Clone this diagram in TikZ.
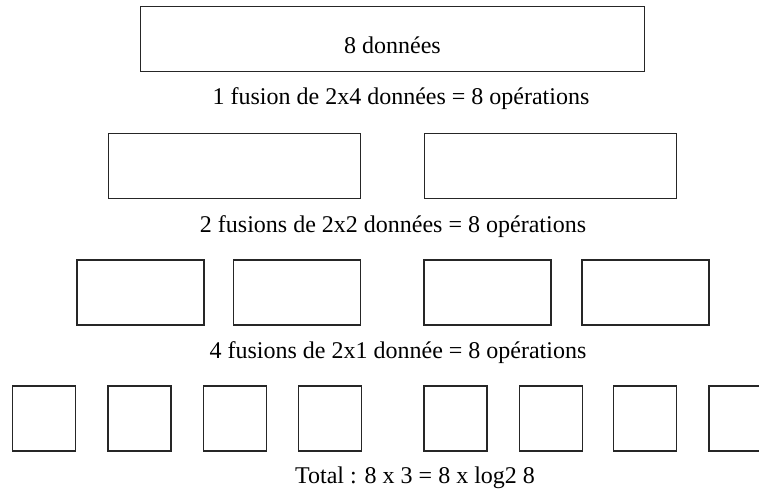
\documentclass[tikz,border=0pt]{standalone}
\usepackage{fontspec}
\setmainfont{Liberation Serif}
\tikzset{bloc/.style={draw, line width=1.2pt, draw=black!85, inner sep=0pt, minimum height=48.5pt},
  legende/.style={inner sep=0pt, font=\fontsize{18}{21}\selectfont}}
\begin{document}
\begin{tikzpicture}[x=0.75pt, y=-0.75pt]
\useasboundingbox (0,0) rectangle (759,492);
% tableau initial
\node[bloc, minimum width=378pt] (n0) at (392.5,39){};
\node[legende] (t0) at (392.5,45){8 données};
\node[legende] (l1) at (401,99){1 fusion de 2x4 données = 8 opérations};
% deux moities
\node[bloc, minimum width=189pt] (n10) at (234.5,166){};
\node[bloc, minimum width=189pt] (n11) at (550.5,166){};
\node[legende] (l2) at (393,227){2 fusions de 2x2 données = 8 opérations};
% quatre quarts
\node[bloc, minimum width=95pt] (n20) at (140.5,292.5){};
\node[bloc, minimum width=95pt] (n21) at (297,292.5){};
\node[bloc, minimum width=95pt] (n22) at (487.5,292.5){};
\node[bloc, minimum width=95pt] (n23) at (645.5,292.5){};
\node[legende] (l3) at (398,353){4 fusions de 2x1 donnée = 8 opérations};
% huit cases
\node[bloc, minimum width=47pt] (n30) at (44,418.5){};
\node[bloc, minimum width=47pt] (n31) at (139.5,418.5){};
\node[bloc, minimum width=47pt] (n32) at (235,418.5){};
\node[bloc, minimum width=47pt] (n33) at (330,418.5){};
\node[bloc, minimum width=47pt] (n34) at (455.5,418.5){};
\node[bloc, minimum width=47pt] (n35) at (551,418.5){};
\node[bloc, minimum width=47pt] (n36) at (645,418.5){};
\node[bloc, minimum width=47pt] (n37) at (740.5,418.5){};
\node[legende] (l4) at (415,478){Total : 8 x 3 = 8 x log2 8};
\end{tikzpicture}
\end{document}
